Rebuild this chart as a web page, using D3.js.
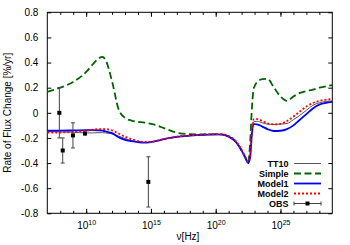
<!DOCTYPE html>
<html>
<head>
<meta charset="utf-8">
<script src="https://cdn.jsdelivr.net/npm/d3@7"></script>
<style>
  body { margin: 0; background: #fff; }
  svg { display: block; font-family: "Liberation Sans", Arial, sans-serif; }
</style>
</head>
<body>
<svg id="chart"></svg>
<script>
// exponent of frequency (log10 nu) shared by all model curves
const logNu = [7, 8, 9, 10, 10.5, 11, 11.25, 11.5, 12, 12.5, 13, 13.5, 14, 14.5, 15, 15.5, 16, 16.5, 17, 18, 19, 20, 20.5, 21, 21.5, 22, 22.3, 22.5, 22.65, 22.8, 22.95, 23.2, 23.6, 24, 24.5, 25, 25.5, 26, 26.5, 27, 27.5, 28, 29];

const tt10 = [-0.15, -0.152, -0.155, -0.16, -0.16, -0.158, -0.158, -0.16, -0.168, -0.185, -0.205, -0.222, -0.232, -0.236, -0.232, -0.222, -0.21, -0.2, -0.192, -0.182, -0.175, -0.172, -0.173, -0.19, -0.225, -0.3, -0.36, -0.395, -0.35, -0.15, -0.07, -0.068, -0.08, -0.09, -0.093, -0.09, -0.085, -0.055, -0.02, 0.02, 0.06, 0.08, 0.095];
const simple = [0.167, 0.2, 0.246, 0.325, 0.385, 0.435, 0.445, 0.42, 0.25, 0.03, -0.04, -0.062, -0.072, -0.078, -0.088, -0.102, -0.122, -0.142, -0.158, -0.17, -0.172, -0.172, -0.172, -0.19, -0.225, -0.3, -0.36, -0.395, -0.25, 0.05, 0.2, 0.245, 0.268, 0.27, 0.2, 0.13, 0.095, 0.13, 0.158, 0.172, 0.185, 0.2, 0.22];
const model1 = [-0.143, -0.142, -0.14, -0.138, -0.138, -0.14, -0.142, -0.148, -0.162, -0.195, -0.215, -0.225, -0.233, -0.238, -0.233, -0.222, -0.21, -0.2, -0.192, -0.182, -0.175, -0.172, -0.173, -0.19, -0.225, -0.3, -0.36, -0.4, -0.36, -0.16, -0.09, -0.092, -0.11, -0.13, -0.145, -0.143, -0.13, -0.1, -0.055, -0.01, 0.035, 0.065, 0.087];
const model2 = [-0.158, -0.157, -0.152, -0.142, -0.135, -0.13, -0.13, -0.13, -0.14, -0.165, -0.19, -0.21, -0.225, -0.232, -0.232, -0.222, -0.21, -0.2, -0.19, -0.18, -0.173, -0.17, -0.17, -0.186, -0.22, -0.295, -0.355, -0.392, -0.34, -0.13, -0.05, -0.05, -0.065, -0.085, -0.092, -0.088, -0.065, -0.03, 0.01, 0.05, 0.078, 0.095, 0.11];

// observations
const obsLogNu = [7.93, 8.19, 8.98, 9.91, 14.8];
const obsRate = [0, -0.3, -0.18, -0.165, -0.55];
const obsErr = [0.2, 0.1, 0.1, 0.01, 0.2];

const yTicks = [-0.8, -0.6, -0.4, -0.2, 0, 0.2, 0.4, 0.6, 0.8];
const xMajorExp = [10, 15, 20, 25];
const xMinorExp = d3.range(8, 29);

const width = 350;
const height = 245;
const margin = { top: 12.3, right: 17.7, bottom: 31.7, left: 47.3 };

const svg = d3.select("#chart").attr("width", width).attr("height", height);

const x = d3.scaleLog().domain([1e7, 1e29]).range([margin.left, width - margin.right]);
const y = d3.scaleLinear().domain([-0.8, 0.8]).range([height - margin.bottom, margin.top]);

const hz = (e) => Math.pow(10, e);

// axes, gnuplot style: ticks inside, mirrored
const yFmt = (d) => String(+d.toFixed(1));
const yAxisL = svg.append("g")
  .attr("transform", `translate(${margin.left},0)`)
  .call(d3.axisLeft(y).tickValues(yTicks).tickSize(-4).tickPadding(9).tickFormat(yFmt));
yAxisL.selectAll("text").attr("font-size", 10).attr("fill", "#000")
  .attr("font-family", "Liberation Sans, Arial, sans-serif");

svg.append("g")
  .attr("transform", `translate(${width - margin.right},0)`)
  .call(d3.axisRight(y).tickValues(yTicks).tickSize(-4).tickFormat(""));

const bottom = height - margin.bottom;
svg.append("g")
  .attr("transform", `translate(0,${bottom})`)
  .call(d3.axisBottom(x).tickValues(xMinorExp.map(hz)).tickSize(-2.5).tickFormat(""));
svg.append("g")
  .attr("transform", `translate(0,${margin.top})`)
  .call(d3.axisTop(x).tickValues(xMinorExp.map(hz)).tickSize(-2.5).tickFormat(""));
svg.append("g")
  .attr("transform", `translate(0,${margin.top})`)
  .call(d3.axisTop(x).tickValues(xMajorExp.map(hz)).tickSize(-4.5).tickFormat(""));

const xAxisG = svg.append("g")
  .attr("transform", `translate(0,${bottom})`)
  .call(d3.axisBottom(x).tickValues(xMajorExp.map(hz)).tickSize(-4.5).tickFormat(""));
xAxisG.selectAll(".tick").each(function (d) {
  const t = d3.select(this).append("text")
    .attr("y", 16).attr("fill", "#000").attr("text-anchor", "middle")
    .attr("font-size", 10);
  t.append("tspan").text("10");
  t.append("tspan").attr("dy", -4.5).attr("font-size", 7).text(Math.round(Math.log10(d)));
});

svg.selectAll(".domain").remove();
svg.selectAll(".tick line").attr("stroke", "#000");

// frame
svg.append("rect")
  .attr("x", margin.left).attr("y", margin.top)
  .attr("width", width - margin.left - margin.right)
  .attr("height", height - margin.top - margin.bottom)
  .attr("fill", "none").attr("stroke", "#000").attr("stroke-width", 1);

// axis labels
svg.append("text")
  .attr("transform", `translate(11,${(margin.top + bottom) / 2}) rotate(-90)`)
  .attr("text-anchor", "middle").attr("font-size", 10)
  .text("Rate of Flux Change [%/yr]");
svg.append("text")
  .attr("x", 188).attr("y", 240).attr("text-anchor", "middle").attr("font-size", 10)
  .text("ν[Hz]");

// curves
svg.append("clipPath").attr("id", "plotClip").append("rect")
  .attr("x", margin.left).attr("y", margin.top)
  .attr("width", width - margin.left - margin.right)
  .attr("height", height - margin.top - margin.bottom);
const plot = svg.append("g").attr("clip-path", "url(#plotClip)");

const line = d3.line()
  .x((d) => x(hz(d[0])))
  .y((d) => y(d[1]))
  .curve(d3.curveMonotoneX);

const series = [
  { name: "TT10", values: tt10, color: "#555", width: 1, dash: null },
  { name: "Simple", values: simple, color: "#006400", width: 1.8, dash: "7,3.5" },
  { name: "Model1", values: model1, color: "#0000ff", width: 1.8, dash: null },
  { name: "Model2", values: model2, color: "#ff0000", width: 1.8, dash: "2,2" }
];

series.forEach((s) => {
  plot.append("path")
    .datum(logNu.map((e, i) => [e, s.values[i]]))
    .attr("d", line)
    .attr("fill", "none")
    .attr("stroke", s.color)
    .attr("stroke-width", s.width)
    .attr("stroke-dasharray", s.dash);
});

// observations with error bars
const obs = obsLogNu.map((e, i) => ({ nu: hz(e), v: obsRate[i], err: obsErr[i] }));
const og = plot.selectAll(".obs").data(obs).enter().append("g").attr("class", "obs");
og.append("line")
  .attr("x1", (d) => x(d.nu)).attr("x2", (d) => x(d.nu))
  .attr("y1", (d) => y(d.v - d.err)).attr("y2", (d) => y(d.v + d.err))
  .attr("stroke", "#444").attr("stroke-width", 1);
og.selectAll(".cap").data((d) => [d.v - d.err, d.v + d.err].map((v) => ({ nu: d.nu, v })))
  .enter().append("line")
  .attr("x1", (d) => x(d.nu) - 2).attr("x2", (d) => x(d.nu) + 2)
  .attr("y1", (d) => y(d.v)).attr("y2", (d) => y(d.v))
  .attr("stroke", "#444").attr("stroke-width", 1);
og.append("rect")
  .attr("x", (d) => x(d.nu) - 2).attr("y", (d) => y(d.v) - 2)
  .attr("width", 4).attr("height", 4).attr("fill", "#000");

// legend
const legendRows = [163.5, 173.5, 183.5, 193.5, 203.5];
const legend = svg.append("g");
const entries = series.map((s) => s.name).concat(["OBS"]);
entries.forEach((name, i) => {
  const yy = legendRows[i];
  legend.append("text")
    .attr("x", 288.5).attr("y", yy).attr("dy", "0.35em")
    .attr("text-anchor", "end").attr("font-size", 9).attr("font-weight", "bold")
    .text(name);
  if (i < series.length) {
    const s = series[i];
    legend.append("line")
      .attr("x1", 294).attr("x2", 321).attr("y1", yy).attr("y2", yy)
      .attr("stroke", s.color).attr("stroke-width", s.width)
      .attr("stroke-dasharray", s.dash);
  } else {
    legend.append("line")
      .attr("x1", 294).attr("x2", 321).attr("y1", yy).attr("y2", yy)
      .attr("stroke", "#444").attr("stroke-width", 1);
    [294, 321].forEach((cx) => legend.append("line")
      .attr("x1", cx).attr("x2", cx).attr("y1", yy - 2).attr("y2", yy + 2)
      .attr("stroke", "#444").attr("stroke-width", 1));
    legend.append("rect")
      .attr("x", 305.5).attr("y", yy - 2).attr("width", 4).attr("height", 4).attr("fill", "#000");
  }
});
</script>
</body>
</html>
